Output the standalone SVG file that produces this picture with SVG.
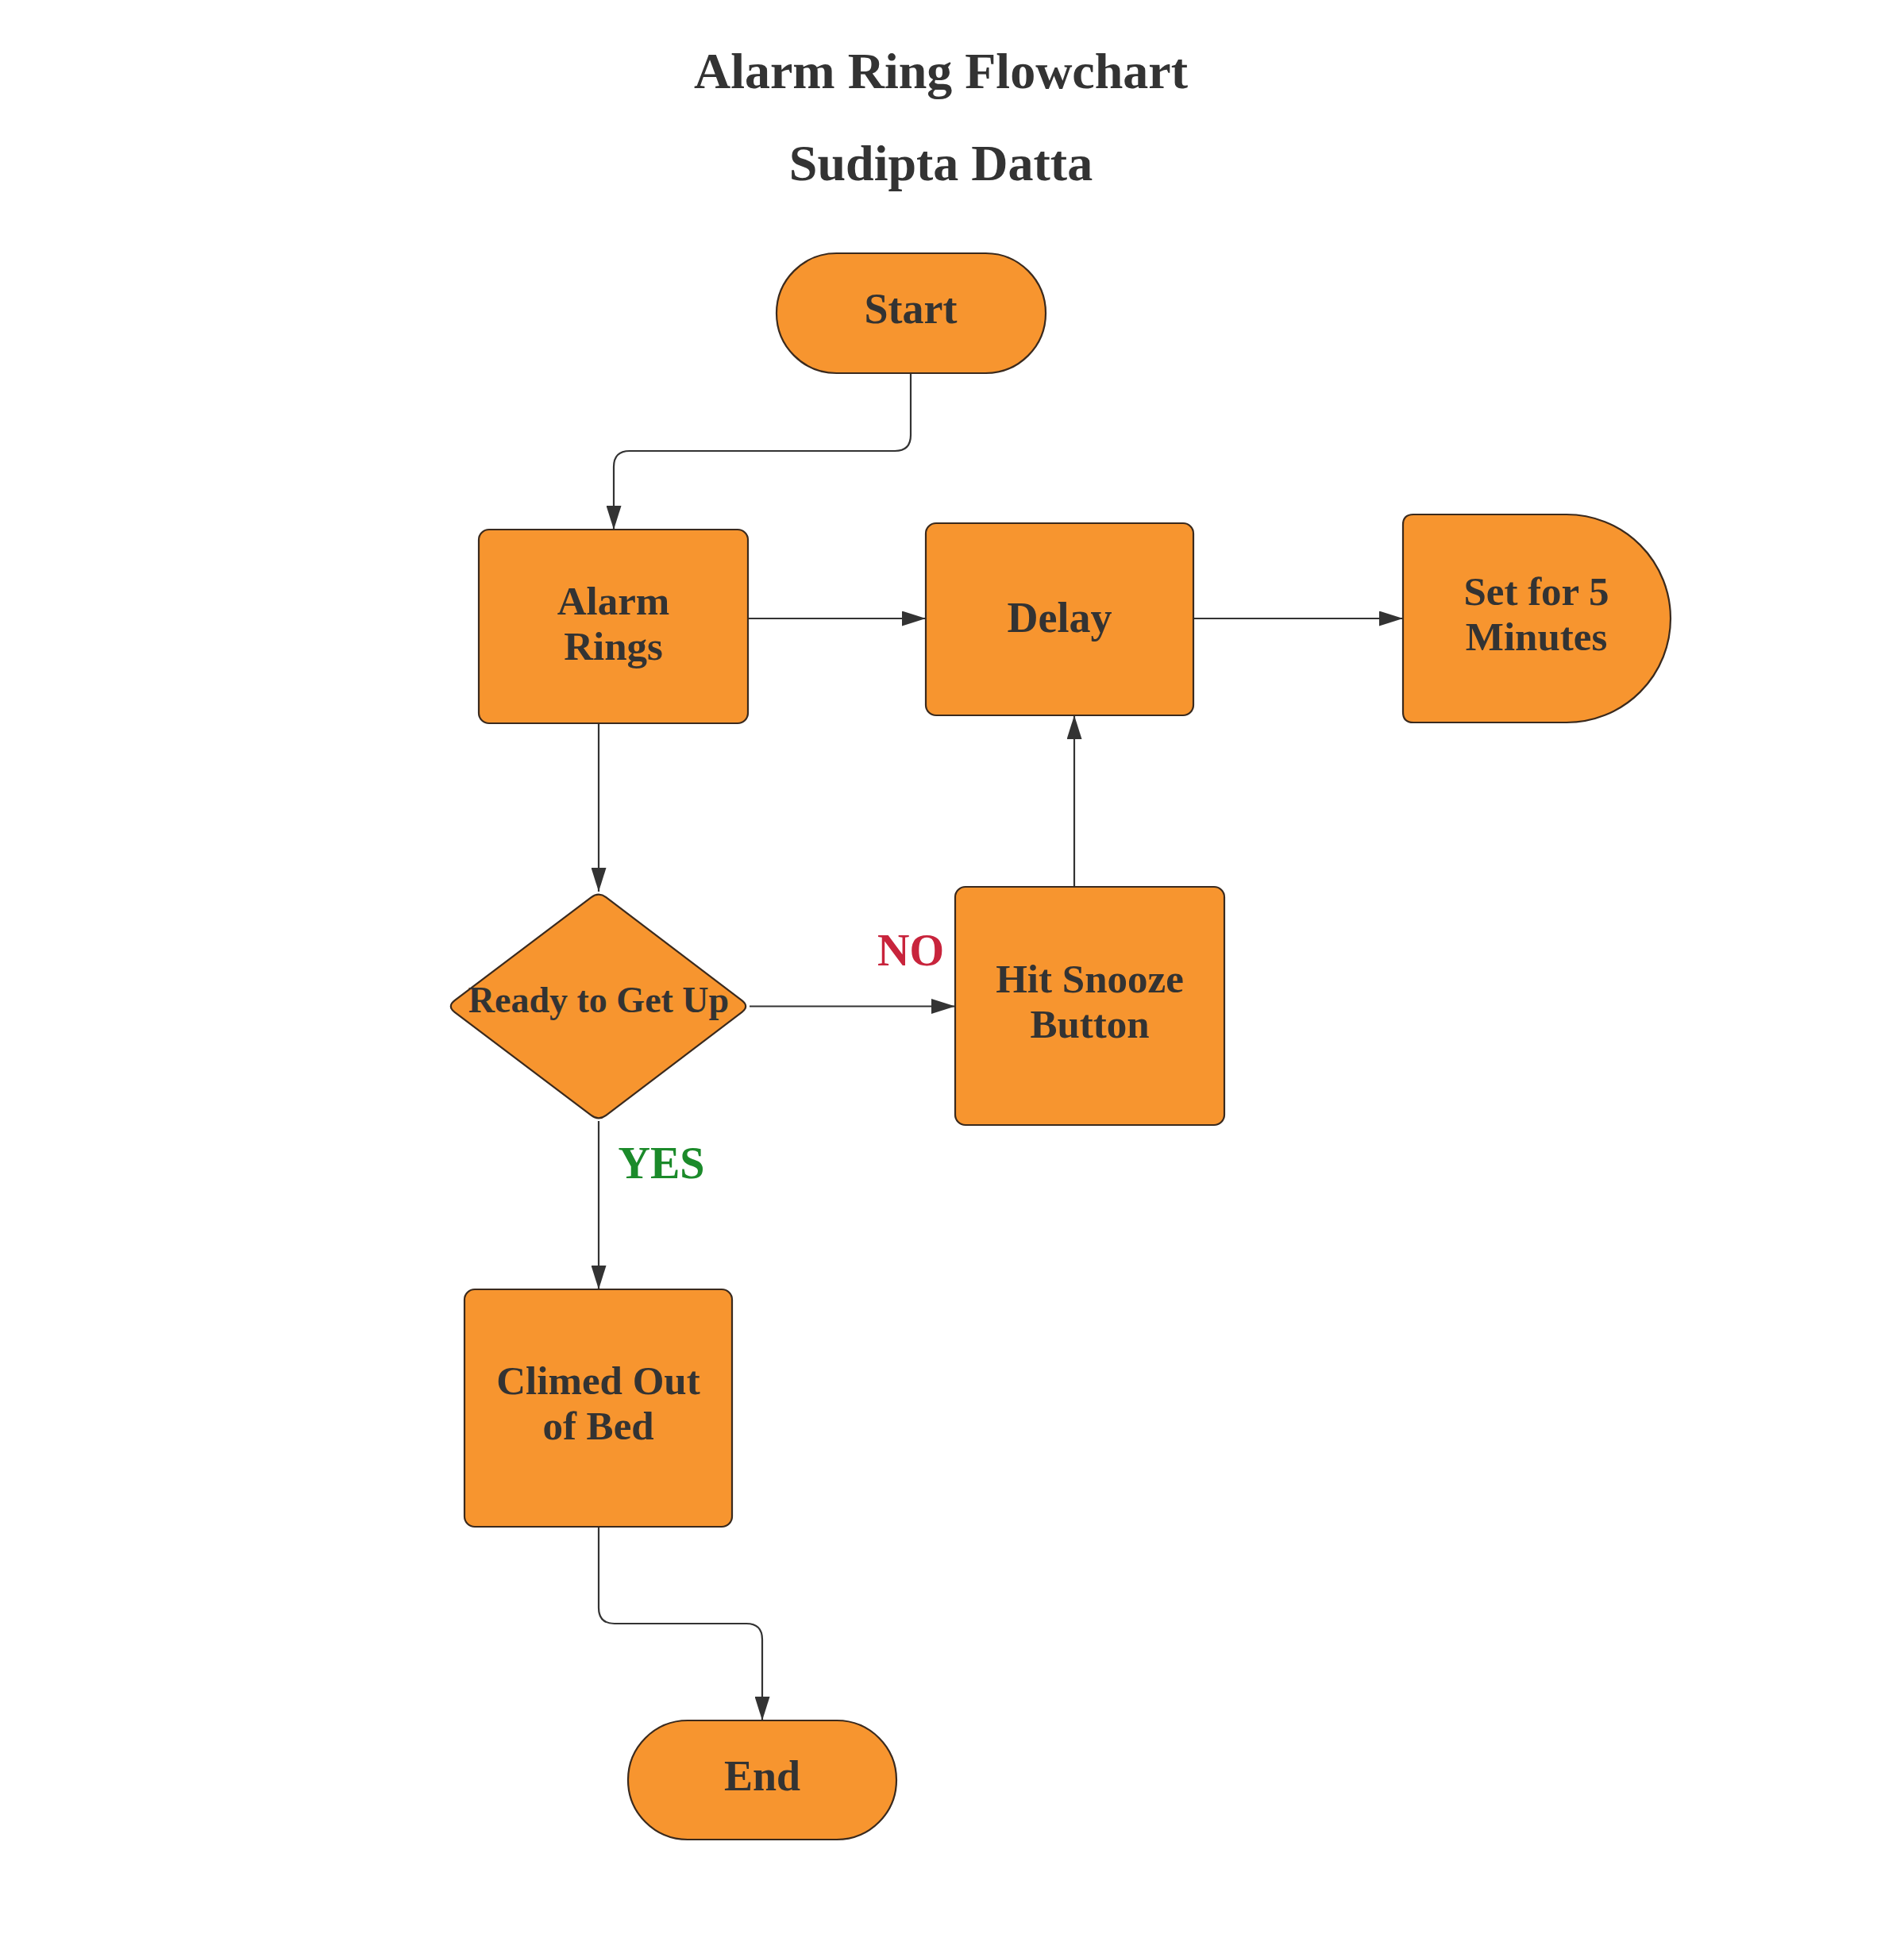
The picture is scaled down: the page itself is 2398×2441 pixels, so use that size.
<svg xmlns="http://www.w3.org/2000/svg" width="2398" height="2441" viewBox="0 0 2398 2441">
<style>
.node{fill:#F7952F;stroke:#3a2a1e;stroke-width:2.2}
.lbl{font-family:"Liberation Serif","Times New Roman",serif;font-weight:bold;fill:#333333;text-anchor:middle}
.t{font-size:54px}
.t2{font-size:51px}
.title{font-family:"Liberation Serif","Times New Roman",serif;font-weight:bold;fill:#333333;text-anchor:middle;font-size:64px}
.edge{fill:none;stroke:#333333;stroke-width:2.2}
</style>
<defs>
<marker id="arr" markerUnits="userSpaceOnUse" markerWidth="30" markerHeight="19" refX="30" refY="9.5" orient="auto">
<path d="M0,0 L30,9.5 L0,19 Z" fill="#333333"/>
</marker>
</defs>
<rect width="2398" height="2441" fill="#ffffff"/>
<text class="title" x="1185" y="111">Alarm Ring Flowchart</text>
<text class="title" x="1185" y="227">Sudipta Datta</text>
<g id="connectors">
<path class="edge" d="M1147,470 V548 Q1147,568 1127,568 H793 Q773,568 773,588 V667" marker-end="url(#arr)"/>
<path class="edge" d="M942,779 H1166" marker-end="url(#arr)"/>
<path class="edge" d="M1503,779 H1767" marker-end="url(#arr)"/>
<path class="edge" d="M754,911 V1123" marker-end="url(#arr)"/>
<path class="edge" d="M944,1267.5 H1203" marker-end="url(#arr)"/>
<path class="edge" d="M1353,1117 V901" marker-end="url(#arr)"/>
<path class="edge" d="M754,1412 V1624" marker-end="url(#arr)"/>
<path class="edge" d="M754,1923 V2025 Q754,2045 774,2045 H940 Q960,2045 960,2065 V2167" marker-end="url(#arr)"/>
<text class="lbl" x="1147" y="1216" style="font-size:56px;fill:#C8243C">NO</text>
<text class="lbl" x="833" y="1484" style="font-size:56px;fill:#1B8A2A">YES</text>
</g>
<g id="start">
<rect class="node" x="978" y="319" width="339" height="151" rx="75.5" ry="75.5"/>
<text class="lbl t" x="1147" y="407">Start</text>
</g>
<g id="alarm-rings">
<rect class="node" x="603" y="667" width="339" height="244" rx="13" ry="13"/>
<text class="lbl t2" x="772.5" y="774">Alarm<tspan x="772.5" dy="57">Rings</tspan></text>
</g>
<g id="delay">
<rect class="node" x="1166" y="659" width="337" height="242" rx="13" ry="13"/>
<text class="lbl t" x="1334.5" y="796">Delay</text>
</g>
<g id="set-5-minutes">
<path class="node" d="M1780,648 H1973 A131,131 0 0 1 1973,910 H1780 Q1767,910 1767,897 V661 Q1767,648 1780,648 Z"/>
<text class="lbl t2" x="1935" y="762">Set for 5<tspan x="1935" dy="57">Minutes</tspan></text>
</g>
<g id="ready">
<path class="node" d="M744.4,1130.3 Q754,1123 763.6,1130.3 L934.4,1260.2 Q944,1267.5 934.4,1274.8 L763.6,1404.7 Q754,1412 744.4,1404.7 L572.6,1274.8 Q563,1267.5 572.6,1260.2 Z"/>
<text class="lbl" x="754" y="1275" style="font-size:46px">Ready to Get Up</text>
</g>
<g id="hit-snooze">
<rect class="node" x="1203" y="1117" width="339" height="300" rx="13" ry="13"/>
<text class="lbl t2" x="1372.5" y="1250">Hit Snooze<tspan x="1372.5" dy="57">Button</tspan></text>
</g>
<g id="climbed-out">
<rect class="node" x="585" y="1624" width="337" height="299" rx="13" ry="13"/>
<text class="lbl t2" x="753.5" y="1756">Climed Out<tspan x="753.5" dy="57">of Bed</tspan></text>
</g>
<g id="end">
<rect class="node" x="791" y="2167" width="338" height="150" rx="75" ry="75"/>
<text class="lbl t" x="960" y="2255">End</text>
</g>
</svg>
